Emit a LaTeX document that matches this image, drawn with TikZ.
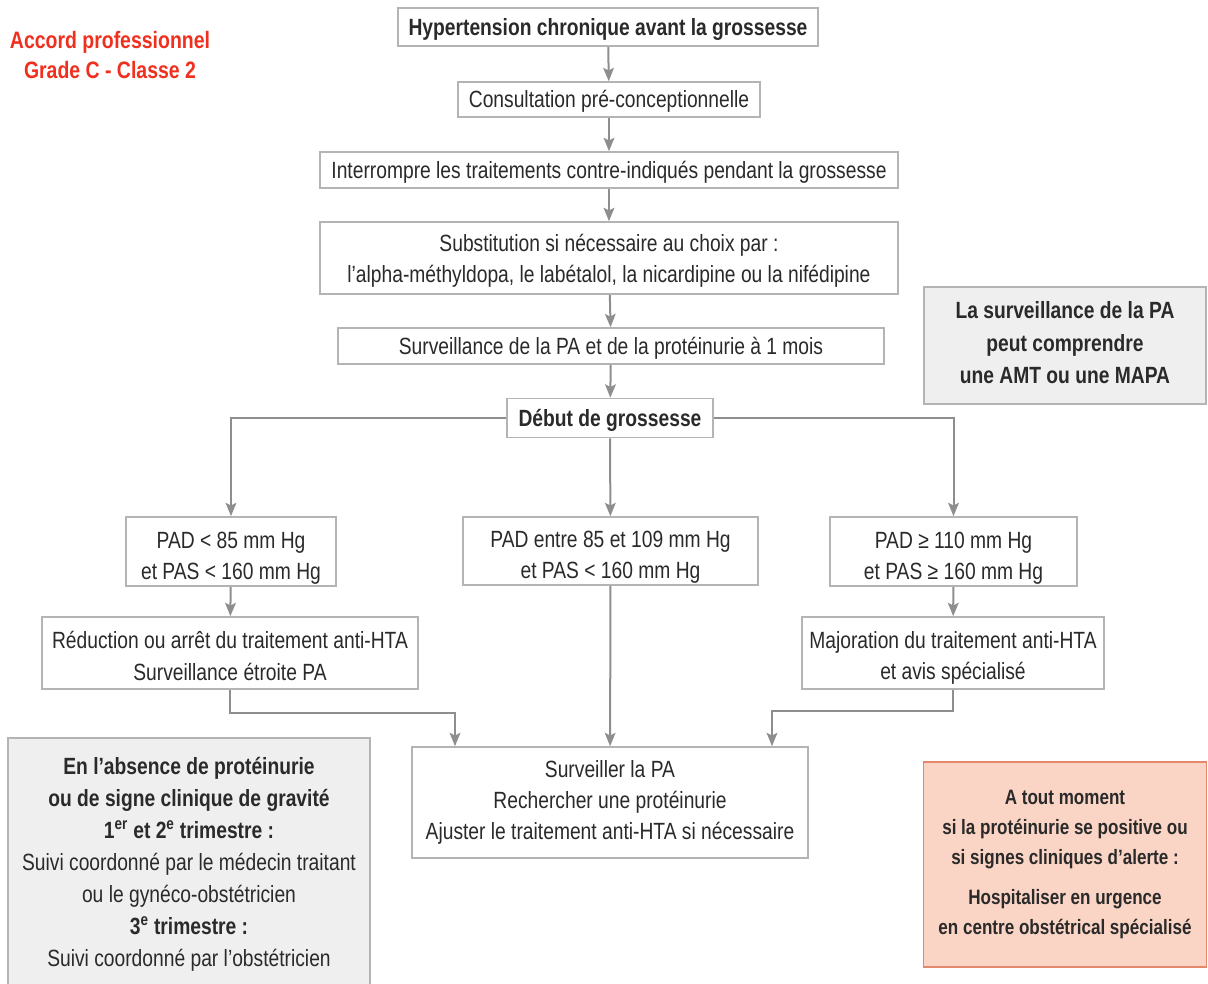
\documentclass[tikz,border=0pt]{standalone}
\usepackage{fontspec}
\setmainfont{Liberation Sans}[FakeStretch=0.82]
\usetikzlibrary{arrows.meta}
\definecolor{txt}{HTML}{2A2A2A}
\definecolor{boxline}{HTML}{B4B4B4}
\definecolor{conn}{HTML}{8E8E8E}
\definecolor{redlabel}{HTML}{F0301E}
\definecolor{notefill}{HTML}{EFEFEF}
\definecolor{pinkfill}{HTML}{FAD4C4}
\definecolor{pinkline}{HTML}{E5876C}
\newcommand\topstrut[1]{\rule{0pt}{#1}}
\newcommand\botstrut[1]{\rule[-#1]{0pt}{#1}}
\tikzset{
  base/.style={align=center, text=txt, inner sep=0pt, font=\fontsize{17.6}{23.5}\selectfont},
  flowbox/.style={base, draw=boxline, line width=1.2pt, fill=white},
  notebox/.style={base, draw=boxline, line width=1.2pt, fill=notefill, font=\fontsize{17.6}{24.5}\selectfont\bfseries},
  pinkbox/.style={base, draw=pinkline, line width=1.2pt, fill=pinkfill, font=\fontsize{15.6}{22.5}\selectfont\bfseries},
  conline/.style={draw=conn, line width=1.5pt},
  arr/.style={conline, -{Stealth[length=10pt,width=8pt,inset=2pt]}}
}
\begin{document}
\begin{tikzpicture}[x=0.75pt,y=-0.75pt]
\useasboundingbox (0,0) rectangle (1208,983);
\clip (0,0) rectangle (1208,983);
\fill[white] (0,0) rectangle (1208,983);

\node[base, text=redlabel, font=\fontsize{17.8}{23}\selectfont\bfseries] (label) at (110,55) {Accord professionnel\\Grade C - Classe 2};

\node[flowbox, font=\fontsize{17.6}{23.5}\selectfont\bfseries, minimum width=315pt, minimum height=28.5pt] (b1) at (608,27) {\topstrut{16pt}Hypertension chronique avant la grossesse};
\node[flowbox, minimum width=226.5pt, minimum height=26.25pt] (b2) at (609,99.5) {\topstrut{16pt}Consultation pré-conceptionnelle};
\node[flowbox, minimum width=433.5pt, minimum height=27pt] (b3) at (609,170) {\topstrut{16pt}Interrompre les traitements contre-indiqués pendant la grossesse};
\node[flowbox, minimum width=433.5pt, minimum height=54pt] (b4) at (609,258) {\topstrut{17.5pt}Substitution si nécessaire au choix par :\\l’alpha-méthyldopa, le labétalol, la nicardipine ou la nifédipine};
\node[flowbox, minimum width=409.5pt, minimum height=27pt] (b5) at (611,346) {\topstrut{16pt}Surveillance de la PA et de la protéinurie à 1 mois};
\node[flowbox, font=\fontsize{17.6}{23.5}\selectfont\bfseries, minimum width=154.5pt, minimum height=29.25pt] (b6) at (610,418) {\topstrut{16pt}Début de grossesse};

\node[flowbox, minimum width=157.5pt, minimum height=51.75pt] (p1) at (231,551.5) {\topstrut{22pt}PAD < 85 mm Hg\\et PAS < 160 mm Hg};
\node[flowbox, minimum width=221.25pt, minimum height=51pt] (p2) at (610.5,551) {\topstrut{22pt}PAD entre 85 et 109 mm Hg\\et PAS < 160 mm Hg};
\node[flowbox, minimum width=185.25pt, minimum height=51.75pt] (p3) at (953.5,551.5) {\topstrut{22pt}PAD ≥ 110 mm Hg\\et PAS ≥ 160 mm Hg};

\node[flowbox, minimum width=282pt, minimum height=54pt] (r1) at (230,653) {\topstrut{17.5pt}Réduction ou arrêt du traitement anti-HTA\\Surveillance étroite PA};
\node[flowbox, minimum width=226.5pt, minimum height=54pt] (r3) at (953,653) {\topstrut{20pt}Majoration du traitement anti-HTA\\et avis spécialisé};

\node[flowbox, minimum width=297pt, minimum height=83.25pt] (sv) at (610,802.5) {Surveiller la PA\\Rechercher une protéinurie\\Ajuster le traitement anti-HTA si nécessaire};

\node[notebox, minimum width=211.5pt, minimum height=87.75pt] (nr) at (1065,345.5) {La surveillance de la PA\\peut comprendre\\une AMT ou une MAPA\botstrut{4.5pt}};

\node[notebox, font=\fontsize{17.6}{24}\selectfont, minimum width=271.5pt, minimum height=189pt] (nl) at (189,864) {\textbf{En l’absence de protéinurie}\\\textbf{ou de signe clinique de gravité}\\\textbf{1\textsuperscript{er} et 2\textsuperscript{e} trimestre :}\\Suivi coordonné par le médecin traitant\\ou le gynéco-obstétricien\\\textbf{3\textsuperscript{e} trimestre :}\\Suivi coordonné par l’obstétricien};

\node[pinkbox, minimum width=212.25pt, minimum height=153.75pt] (pk) at (1065,864.5) {A tout moment\\si la protéinurie se positive ou\\si signes cliniques d’alerte :\\[8pt]Hospitaliser en urgence\\en centre obstétrical spécialisé};

\draw[arr] (b1) -- (b2);
\draw[arr] (b2) -- (b3);
\draw[arr] (b3) -- (b4);
\draw[arr] (b4) -- (b5);
\draw[arr] (b5) -- (b6);
\draw[arr] (b6) -- (p2);
\draw[arr] (b6.west) -| (p1.north);
\draw[arr] (b6.east) -| (p3.north);
\draw[arr] (p1) -- (r1);
\draw[arr] (p3) -- (r3);
\coordinate (jl) at (455,713);
\coordinate (jr) at (772,711);
\draw[arr] (r1.south) |- (jl) -- (jl |- sv.north);
\draw[arr] (p2) -- (sv);
\draw[arr] (r3.south) |- (jr) -- (jr |- sv.north);
\end{tikzpicture}
\end{document}
